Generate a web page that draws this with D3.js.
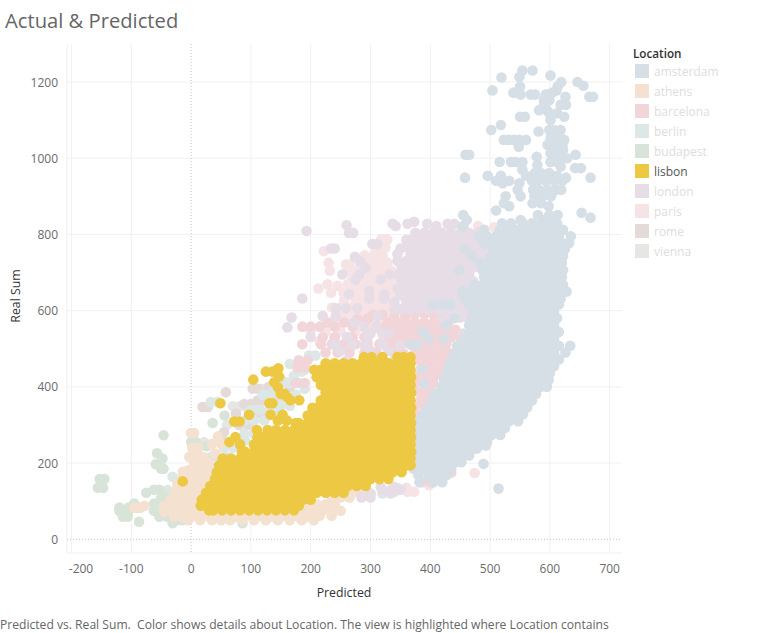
<!DOCTYPE html>
<html><head><meta charset="utf-8"><script src="https://cdn.jsdelivr.net/npm/d3@7"></script>
<style>html,body{margin:0;background:#fff}svg{display:block}text{font-family:"Open Sans",sans-serif}</style></head>
<body><svg id="c" width="772" height="633"></svg>
<script>
const xTicks=[-200,-100,0,100,200,300,400,500,600,700];
const yTicks=[0,200,400,600,800,1000,1200];
const locations=["amsterdam","athens","barcelona","berlin","budapest","lisbon","london","paris","rome","vienna"];
const swatches=["#d6dee6","#f4e1d0","#f1d5d8","#dce7e6","#d9e4d9","#edc843","#e6dde6","#f6e3e6","#e4dbd9","#e6e6e4"];
const drawOrder=["vienna","rome","berlin","budapest","athens","paris","barcelona","london","amsterdam","lisbon"];
// each row: [real sum, predicted, predicted, ...]
const viennaRows=[[429,172],[349,81,70],[255,22],[395,118],[340,96],[300,60],[412,160],[440,185]];
const romeRows=[[386,58],[347,19,28],[355,89,100],[395,103,112],[364,111,122],[281,55],[268,50],[330,75,110],[420,150],[300,80,95],[250,60],[370,135],[150,290],[120,250,265],[400,130,165],[320,125]];
const berlinRows=[[482,197,208],[429,172],[360,44,33],[410,156,165,180],[373,139,150],[340,100,115,130,145],[312,122,90,105],[277,89,105],[260,72,90],[240,55,70],[216,33,45,60],[190,25,35],[177,-9,5,20],[164,27,-31,40],[155,16,32],[129,-39],[350,150,165],[380,120,130,175],[460,165,180],[120,300,320],[125,340],[310,385,395],[250,385,395],[220,380],[360,400],[445,180,190],[395,140,190]];
const budapestRows=[[158,-153,-145],[135,-156,-147],[273,-46],[226,-57],[212,-48],[197,-59,-52],[185,-50,-46],[122,-75],[130,-62,-53],[94,-95,-62,-50,-38],[83,-120,-105,-90],[75,-120,-110,-62,-45],[68,-106],[59,-114,-106,-53,-40],[46,-87],[42,-31,86],[305,36],[325,56],[255,0,8],[244,26],[220,39],[110,-50,-40],[50,-25,-15]];
const athensRows=[[279,0,5],[240,2,12],[225,11],[216,-3,10,20],[199,14,5],[181,16,-5,5,28],[177,-14],[160,-15,0,15,28],[146,-23,-8,7,20],[125,-28,-15,0,15],[105,-34,-20,-5,10],[88,-78,-45,-30,-15,0,15],[83,-95,-85],[72,-45,-30,-15,0,15,30,45],[59,-28,-15,0,15,30,45,60,75,90,105,120,135,150,165,180,195],[50,-5,15,35,50,65,85,105,125,145,165,185,205],[75,175,190,205,220,235,250],[92,195,210,225,240],[110,235,250,265],[62,195,215,235],[270,45],[250,35,50],[125,275,285],[200,30],[225,40]];
const parisRows=[[819,507],[787,328,318],[765,310,325],[756,222],[745,290,305,320],[726,230,282,297,312,328],[721,259,264],[705,232,265,275,290,305,320,335],[685,270,282,297,312,327,340],[669,228,262],[665,245,275,290,305,320,335],[658,213],[647,234,255,267,282,297,312,327,340],[628,256,275,290,305,320,335],[608,236,250,267,282,297,312,327],[590,245,260,275,290,305,320,335],[570,235,250,267,282,300,315],[545,200,225,250,275,300,320],[520,215,240,265,295,320],[174,474],[142,398],[125,362,373],[135,345,360],[155,415],[238,460],[214,452],[800,470,490],[822,455,480]];
const barcelonaRows=[[590,373,390,406],[586,340,358],[578,278,295],[569,228,256,330,345,360,375,390,405,420,430],[558,186,200,215,240,270,310,325],[550,337,352,367,382,397,412,427,442],[530,220,240,270,290,330,345,360,375,390,405,420,435,450],[512,186,217,235,255,275,295,315,337,352,367,382,397,412,427],[490,225,245,265,290,310,375,390,405,420,430],[470,180,195,382,397,412,425],[451,178,190,385,400,415,430],[430,378,393,408,420],[410,175,190,375,390,405],[390,375,390,400],[370,385,395],[350,375,390,400],[330,375,390],[300,375,385],[420,475,490],[395,480,490],[380,470,485],[238,459],[214,451],[590,305,320],[470,300,315],[488,340,355],[175,415,435],[150,385,400]];
const londonRows=[[833,373],[828,337,362,395,429,440],[822,342,410,455],[809,193],[824,260],[804,264,271,375,390,405,420,435,450,465,480],[786,360,367,382,397,412,427,442,457,472,487],[775,303,311],[763,234,240,350],[767,360,375,390,405,420,435,450,465,480,495],[748,345,367,382,397,412,427,442,457,472,487],[741,274],[730,282,345,360,375,390,405,420,435,450,465,480],[713,292,352,367,382,397,412,427,442,457,472],[695,253,281,332,347,360,375,390,405,420,435,450,465],[682,275,317],[677,352,367,382,397,412,427,442,457,472],[658,345,360,375,390,405,420,435,450,465],[652,298],[643,264,323],[640,350,367,382,397,412,427,442,457,472],[632,186,298,323],[622,340,360,375,390,405,420,435,450,465],[606,242,259,278],[604,340,352,367,382,397,412,427,442,457,470],[586,220,242,312],[582,168,420,435,450,462],[569,273],[556,161,290,310],[540,330,300,320,455,465],[531,200,261,295],[510,240,270,290,320,350],[495,250,300,330,465],[470,260,340],[455,340,300],[130,320,335,350],[120,334,300],[137,317,340],[110,300,285]];
const amsterdamRows=[[1230,554,571],[1217,601],[1212,519],[1213,549],[1200,619,646],[1190,656],[1188,550,613],[1178,504,611],[1172,539,604],[1167,551,568,575,593,598],[1161,666,672,626],[1152,599,590],[1140,590,618,627],[1126,582,595],[1118,599,612],[1109,550,558,624],[1100,601],[1087,518],[1074,502,599,618,607],[1070,581],[1056,613,602],[1048,523,531,540,549,560,601,624,612],[1035,596,607,621,615],[1030,548],[1022,613,603,622],[1013,601,612],[1009,459,465,643],[1004,578],[1000,629,618],[990,516,535,543,554,601,612],[982,579],[978,618],[974,642,652],[970,554],[961,585,599,575],[954,496,518,560,612],[949,458,627,668],[941,510,532,579,593,607,621,570],[934,521,549],[917,546,582,596,610,572,619],[900,526,551,574,588,602],[882,523,571,585],[874,532,598],[863,510],[857,653],[851,455,580,599,613],[844,668],[838,461,551,590,605],[829,520,535,555,570,585,600,612],[820,454],[812,490,517,532,547,562,577,592,607,622],[795,482,495,510,525,540,555,570,585,600,615,635],[777,490,502,517,532,547,562,577,592,607,622,632],[761,457,505,510,525,540,555,570,585,600,615,625],[743,470,502,517,532,547,562,577,592,607,622],[725,484,495,510,525,540,555,570,585,600,615,620],[706,448,487,502,517,532,547,562,577,592,607,622],[688,490,495,510,525,540,555,570,585,600,615,620],[668,472,487,502,517,532,547,562,577,592,607,622],[650,454,470,480,495,510,525,540,555,570,585,600,615,628],[632,457,472,487,502,517,532,547,562,577,592,607,618],[616,404,420,434,465,480,495,510,525,540,555,570,585,600,615],[598,472,487,502,517,532,547,562,577,592,607],[580,440,470,480,495,510,525,540,555,570,585,600,612],[562,427,465,472,487,502,517,532,547,562,577,592,607],[544,387,465,480,495,510,525,540,555,570,585,600,615],[526,397,423,457,472,487,502,517,532,547,562,577,592,607],[511,367,378],[508,445,450,465,480,495,510,525,540,555,570,585,600,615,634],[490,442,457,472,487,502,517,532,547,562,577,592,607,626],[472,435,450,465,480,495,510,525,540,555,570,585,600,615],[454,432,442,457,472,487,502,517,532,547,562,577,592,607],[447,386],[436,428,435,450,465,480,495,510,525,540,555,570,585,600],[418,423,427,442,457,472,487,502,517,532,547,562,577,592,598],[408,390],[400,418,420,435,450,465,480,495,510,525,540,555,570,585,595],[382,407,412,427,442,457,472,487,502,517,532,547,562,577],[364,403,405,420,435,450,465,480,495,510,525,540,555,570],[346,397,412,427,442,457,472,487,502,517,532,547,562],[328,388,390,405,420,435,450,465,480,495,510,525,540,555],[310,382,397,412,427,442,457,472,487,502,517,532,547],[292,381,390,405,420,435,450,465,480,495,510,525],[274,380,382,397,412,427,442,457,472,487,502,517],[256,378,390,405,420,435,450,465,480,495],[246,493],[238,376,382,397,412,427,442,457,472,478],[220,373,390,405,420,435,450,465],[202,369,382,397,412,427,442,452],[198,489],[185,372,375,390,405,420,435],[168,380,397,412,427],[150,382,405,420],[133,514]];
const lisbonRows=[[478,289,302,320,345,355,367],[462,225,240,255,270,285,300,315,330,345,360,367],[449,146],[445,206,217,232,247,262,277,292,307,322,337,352,367],[440,125,136],[427,147],[425,210,225,240,255,270,285,300,315,330,345,360,368],[419,104],[412,139],[405,217,232,247,262,277,292,307,322,337,352,367],[399,145],[385,225,240,255,270,285,300,315,330,345,360,368],[382,156],[381,150],[373,161],[365,166,181,217,232,247,262,277,292,307,322,337,352,367],[357,49,131,136],[345,203,210,225,240,255,270,285,300,315,330,345,360,368],[327,133,153,97],[325,195,202,217,232,247,262,277,292,307,322,337,352,367],[309,72,81],[312,145,160],[305,175,180,195,210,225,240,255,270,285,300,315,330,345,360,368],[287,110,128,142,157,172,187,202,217,232,247,262,277,292,307,322,337,352,367],[268,74,111,120,135,150,165,180,195,210,225,240,255,270,285,300,315,330,345,360,368],[255,64],[249,82,105,112,127,142,157,172,187,202,217,232,247,262,277,292,307,322,337,352,367],[230,85,90,105,120,135,150,165,180,195,210,225,240,255,270,285,300,315,330,345,360,368],[212,53,67,82,97,112,127,142,157,172,187,202,217,232,247,262,277,292,307,322,337,352,367],[194,47,60,75,90,105,120,135,150,165,180,195,210,225,240,255,270,285,300,315,330,345,360,367],[176,43,52,67,82,97,112,127,142,157,172,187,202,217,232,247,262,277,292,307,322,337,352],[158,40,45,60,75,90,105,120,135,150,165,180,195,210,225,240,255,270,285,300,315,330],[152,-14],[140,32,37,52,67,82,97,112,127,142,157,172,187,202,217,232,247,262,277,292],[122,25,30,45,60,75,90,105,120,135,150,165,180,195,210,225,240,255],[104,18,22,37,52,67,82,97,112,127,142,157,172,187,200],[88,16,30,45,60,75,90,105,120,135,150,165,180],[76,30,37,52,67,82,97,112,127,142,157,172]];
const rowsBy={vienna:viennaRows,rome:romeRows,berlin:berlinRows,budapest:budapestRows,athens:athensRows,paris:parisRows,barcelona:barcelonaRows,london:londonRows,amsterdam:amsterdamRows,lisbon:lisbonRows};

const svg=d3.select("#c");
const x=d3.scaleLinear().domain([-200,700]).range([71.5,609.7]);
const y=d3.scaleLinear().domain([0,1200]).range([539.3,82]);
const color=d3.scaleOrdinal(locations,swatches);
const grid="#f1f1f1",L=67,R=622,T=44,B=553;
const g=svg.append("g");
g.selectAll(".gx").data(xTicks.filter(d=>d!==0)).join("line").attr("x1",d=>x(d)).attr("x2",d=>x(d)).attr("y1",T).attr("y2",B).attr("stroke",grid);
g.selectAll(".gy").data(yTicks.filter(d=>d!==0)).join("line").attr("x1",L).attr("x2",R).attr("y1",d=>y(d)).attr("y2",d=>y(d)).attr("stroke",grid);
g.append("line").attr("x1",L).attr("x2",L).attr("y1",T).attr("y2",B).attr("stroke",grid);
g.append("line").attr("x1",L).attr("x2",R).attr("y1",B).attr("y2",B).attr("stroke",grid);
g.append("line").attr("x1",x(0)).attr("x2",x(0)).attr("y1",T).attr("y2",B).attr("stroke","#c4c4c4").attr("stroke-dasharray","1 2");
g.append("line").attr("x1",L).attr("x2",R).attr("y1",y(0)).attr("y2",y(0)).attr("stroke","#c4c4c4").attr("stroke-dasharray","1 2");
drawOrder.forEach(name=>{
  const pts=rowsBy[name].flatMap(r=>r.slice(1).map(px=>[px,r[0]]));
  svg.append("g").selectAll("circle").data(pts).join("circle").attr("cx",d=>x(d[0])).attr("cy",d=>y(d[1])).attr("r",5.3).attr("fill",color(name));
});
const tick="#6b6b6b";
svg.append("g").selectAll("text").data(xTicks).join("text").attr("x",d=>d===-200?81:x(d)).attr("y",573).attr("text-anchor","middle").attr("font-size",12).attr("fill",tick).text(d=>d);
svg.append("g").selectAll("text").data(yTicks).join("text").attr("x",58).attr("y",d=>y(d)+4.5).attr("text-anchor","end").attr("font-size",12).attr("fill",tick).text(d=>d);
svg.append("text").attr("x",344).attr("y",597).attr("text-anchor","middle").attr("font-size",12.3).attr("fill","#333").text("Predicted");
svg.append("text").attr("transform","translate(20,296) rotate(-90)").attr("text-anchor","middle").attr("font-size",12.3).attr("fill","#333").text("Real Sum");
svg.append("text").attr("x",5).attr("y",28).attr("font-size",20.2).attr("fill","#666").text("Actual & Predicted");
svg.append("text").attr("x",0).attr("y",629).attr("font-size",12.12).attr("fill","#666").attr("xml:space","preserve").text("Predicted vs. Real Sum.  Color shows details about Location. The view is highlighted where Location contains");
svg.append("text").attr("x",633).attr("y",58).attr("font-size",11.7).attr("font-weight",600).attr("fill","#333").text("Location");
const lg=svg.append("g").selectAll("g").data(locations).join("g").attr("transform",(d,i)=>`translate(635,${64+i*20})`);
lg.append("rect").attr("width",14).attr("height",14).attr("fill",d=>color(d));
lg.append("text").attr("x",19).attr("y",12).attr("font-size",12).attr("fill",d=>d==="lisbon"?"#555":"#ddd").text(d=>d);
</script></body></html>
